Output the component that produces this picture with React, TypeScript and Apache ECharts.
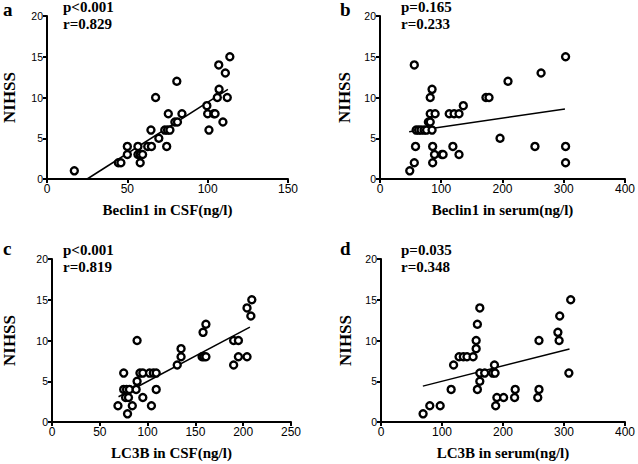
import React, { useEffect, useRef } from "react";
import * as echarts from "echarts";

// Panel a: Beclin1 in CSF
const beclinCsfX = [17, 44.4, 46, 50, 50, 56.6, 56.6, 58, 59.5, 58, 62.7, 65, 64.7, 69.6, 67.6, 74.5, 73.3, 75, 76.5, 75.5, 79.6, 81.2, 84, 80.8, 99.5, 100, 103.8, 104.6, 100.8, 106.9, 107.1, 106, 111, 109.5, 112.2, 113.8];
const beclinCsfY = [1, 2, 2, 3, 4, 4, 3, 3, 3, 2, 4, 4, 6, 5, 10, 4, 6, 6, 6, 8, 7, 7, 8, 12, 9, 8, 8, 8, 6, 14, 11, 10, 13, 7, 10, 15];
const beclinCsfFit = [[25, 0], [112.6, 11]];

// Panel b: Beclin1 in serum
const beclinSerumX = [48.6, 56, 58, 56, 59, 63, 67, 72, 76, 79, 82, 85, 82, 90, 82, 85, 86, 86, 89, 101, 103, 113, 121, 129, 119, 129, 136, 173, 178, 196, 209, 253, 263, 303, 303, 303];
const beclinSerumY = [1, 2, 4, 14, 6, 6, 6, 6, 6, 7, 7, 6, 8, 8, 10, 11, 4, 2, 3, 3, 3, 8, 8, 8, 4, 3, 9, 10, 10, 5, 12, 4, 13, 15, 4, 2];
const beclinSerumFit = [[47.6, 5.8], [302, 8.6]];

// Panel c: LC3B in CSF
const lc3bCsfX = [69, 79, 75, 75, 78, 81, 77, 80, 84, 88, 89, 89, 92, 95, 95, 102, 106, 104, 109, 109, 131, 135, 135, 158, 161, 157, 159, 161, 190, 190, 195, 195, 204, 204, 208, 209];
const lc3bCsfY = [2, 1, 6, 4, 4, 4, 3, 3, 2, 4, 5, 10, 6, 6, 3, 6, 6, 2, 4, 6, 7, 8, 9, 11, 12, 8, 8, 8, 7, 10, 10, 8, 8, 14, 13, 15];
const lc3bCsfFit = [[69.6, 3.1], [207, 11.65]];

// Panel d: LC3B in serum
const lc3bSerumX = [69, 80, 97, 115, 119, 128, 135, 141, 151, 156, 156, 158, 158, 162, 162, 162, 170, 183, 187, 186, 188, 190, 201, 219, 220, 257, 259, 259, 290, 292, 293, 308, 311];
const lc3bSerumY = [1, 2, 2, 4, 7, 8, 8, 8, 8, 10, 9, 4, 12, 14, 5, 6, 6, 6, 6, 7, 2, 3, 3, 3, 4, 3, 4, 10, 11, 10, 13, 6, 15];
const lc3bSerumFit = [[68.6, 4.4], [309, 8.96]];

const panelLetters = ["a", "b", "c", "d"];
const pValues = ["p<0.001", "p=0.165", "p<0.001", "p=0.035"];
const rValues = ["r=0.829", "r=0.233", "r=0.819", "r=0.348"];
const xTitles = ["Beclin1 in CSF(ng/l)", "Beclin1 in serum(ng/l)", "LC3B in CSF(ng/l)", "LC3B in serum(ng/l)"];
const yTitle = "NIHSS";
const xMax = [150, 400, 250, 400];
const xInterval = [50, 100, 50, 100];
const yMax = 20;
const yInterval = 5;

const SERIF = "'Liberation Serif', 'Times New Roman', serif";
const SANS = "'Liberation Sans', Arial, sans-serif";

export default function App() {
  const ref = useRef<HTMLDivElement>(null);
  useEffect(() => {
    if (!ref.current) return;
    const chart = echarts.init(ref.current, null, { renderer: "svg" });
    const grids = [
      { left: 42, top: 16, width: 246, height: 163 },
      { left: 380, top: 16, width: 247, height: 163 },
      { left: 47, top: 259, width: 244, height: 163 },
      { left: 381, top: 259, width: 246, height: 163 },
    ];
    const yNameGaps = [29, 27, 34, 27];
    const xs = [beclinCsfX, beclinSerumX, lc3bCsfX, lc3bSerumX];
    const ys = [beclinCsfY, beclinSerumY, lc3bCsfY, lc3bSerumY];
    const fits = [beclinCsfFit, beclinSerumFit, lc3bCsfFit, lc3bSerumFit];
    const axisLine = { show: true, lineStyle: { color: "#000", width: 2 } };
    const axisTick = { show: true, length: 4, lineStyle: { color: "#000", width: 2 } };
    const xLabel = { color: "#000", fontSize: 12, fontFamily: SANS, margin: 4 };
    const yLabel = { color: "#000", fontSize: 10.5, fontFamily: SANS, margin: 4 };
    const nameStyle = { color: "#000", fontSize: 15, fontWeight: "bold" as const, fontFamily: SERIF };

    const series: any[] = [];
    xs.forEach((xArr, i) => {
      series.push({
        type: "scatter",
        xAxisIndex: i,
        yAxisIndex: i,
        data: xArr.map((x, j) => [x, ys[i][j]]),
        symbol: "circle",
        symbolSize: 7,
        itemStyle: { color: "#fff", borderColor: "#000", borderWidth: 2.4, opacity: 1 },
        z: 3,
      });
      series.push({
        type: "line",
        xAxisIndex: i,
        yAxisIndex: i,
        data: fits[i],
        symbol: "none",
        lineStyle: { color: "#000", width: 1.5 },
        z: 2,
      });
    });

    const letterPos = [[3, 9], [340, 9], [3, 248], [340, 248]];
    const textPos = [[63, 7], [401, 7], [63, 250], [401, 250]];
    const graphics: any[] = [];
    panelLetters.forEach((l, i) => {
      graphics.push({
        type: "text",
        x: letterPos[i][0],
        y: letterPos[i][1],
        style: { text: l, fill: "#000", font: `bold 19px ${SERIF}`, verticalAlign: "middle", align: "left" },
      });
      graphics.push({
        type: "text",
        x: textPos[i][0],
        y: textPos[i][1],
        style: { text: pValues[i], fill: "#000", font: `bold 15px ${SERIF}`, verticalAlign: "middle", align: "left" },
      });
      graphics.push({
        type: "text",
        x: textPos[i][0],
        y: textPos[i][1] + 17,
        style: { text: rValues[i], fill: "#000", font: `bold 15px ${SERIF}`, verticalAlign: "middle", align: "left" },
      });
    });

    chart.setOption({
      animation: false,
      backgroundColor: "#fff",
      grid: grids,
      xAxis: grids.map((_, i) => ({
        type: "value",
        gridIndex: i,
        min: 0,
        max: xMax[i],
        interval: xInterval[i],
        axisLine,
        axisTick,
        axisLabel: xLabel,
        splitLine: { show: false },
        name: xTitles[i],
        nameLocation: "middle",
        nameGap: 23,
        nameTextStyle: { ...nameStyle, verticalAlign: "top" },
      })),
      yAxis: grids.map((_, i) => ({
        type: "value",
        gridIndex: i,
        min: 0,
        max: yMax,
        interval: yInterval,
        axisLine,
        axisTick,
        axisLabel: yLabel,
        splitLine: { show: false },
        name: yTitle,
        nameLocation: "middle",
        nameGap: yNameGaps[i],
        nameTextStyle: { ...nameStyle, fontSize: 17 },
      })),
      series,
      graphic: graphics,
    });
    return () => chart.dispose();
  }, []);
  return (
    <div
      ref={ref}
      style={{ position: "fixed", left: 0, top: 0, width: 638, height: 464, background: "#fff" }}
    />
  );
}
